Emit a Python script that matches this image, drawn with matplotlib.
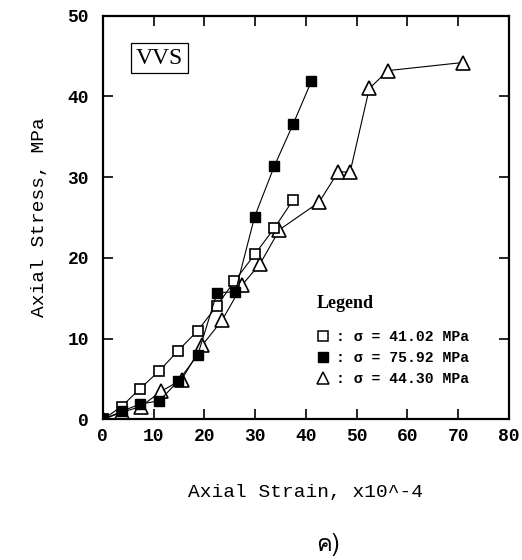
import matplotlib
matplotlib.use('Agg')
import matplotlib.pyplot as plt
from matplotlib import font_manager
from matplotlib.ft2font import FT2Font
from matplotlib.lines import Line2D

# strain (x10^-4) and stress (MPa)
strain_41 = [0, 3.7, 7.3, 11.1, 14.8, 18.7, 22.5, 25.9, 30.0, 33.8, 37.5]
stress_41 = [0, 1.6, 3.8, 6.0, 8.5, 11.0, 14.1, 17.1, 20.5, 23.7, 27.2]

strain_75 = [0, 3.7, 7.3, 11.1, 14.8, 18.7, 22.5, 26.1, 29.9, 33.8, 37.5, 41.1]
stress_75 = [0, 1.0, 1.9, 2.3, 4.7, 8.0, 15.7, 15.8, 25.1, 31.4, 36.6, 41.9]

strain_44 = [0, 3.8, 7.5, 11.5, 15.5, 19.6, 23.5, 27.5, 31.0, 34.8, 42.6, 46.4, 48.7, 52.5, 56.2, 70.9]
stress_44 = [0, 0.9, 1.6, 3.5, 4.9, 9.2, 12.3, 16.7, 19.3, 23.5, 26.9, 30.7, 30.6, 41.0, 43.2, 44.2]

legend_labels = [': σ = 41.02 MPa', ': σ = 75.92 MPa', ': σ = 44.30 MPa']
x_ticks = [0, 10, 20, 30, 40, 50, 60, 70, 80]
y_ticks = [0, 10, 20, 30, 40, 50]
panel_label = 'ค)'

mono = 'Liberation Mono'


def families_with(ch):
    # look through the installed fonts for any that carry this glyph
    found = []
    for f in font_manager.fontManager.ttflist:
        try:
            if ord(ch) in FT2Font(f.fname).get_charmap() and f.name not in found:
                found.append(f.name)
        except Exception:
            pass
    return found


panel_fonts = families_with(panel_label[0]) + ['DejaVu Sans']

fig = plt.figure(figsize=(5.22, 5.6), dpi=100)
ax = fig.add_axes([0.197, 0.251, 0.778, 0.721])

ax.plot(strain_41, stress_41, color='black', lw=0.8, marker='s', ms=7.5,
        mfc='white', mec='black', mew=1.2, zorder=3)
ax.plot(strain_75, stress_75, color='black', lw=0.8, marker='s', ms=7.8,
        mfc='black', mec='black', zorder=4)
ax.plot(strain_44, stress_44, color='black', lw=0.8, marker='^', ms=9.5,
        mfc='white', mec='black', mew=1.2, zorder=2)

ax.set_xlim(0, 80)
ax.set_ylim(0, 50)
ax.set_xticks(x_ticks)
ax.set_yticks(y_ticks)
ax.tick_params(direction='in', length=7, width=1.2, top=True, right=True,
               labelsize=13)
ax.tick_params(axis='x', pad=6)
ax.tick_params(axis='y', pad=10)
for lab in ax.get_xticklabels() + ax.get_yticklabels():
    lab.set_fontfamily(mono)
    lab.set_fontweight('bold')
for sp in ax.spines.values():
    sp.set_linewidth(1.6)

ax.set_xlabel('Axial Strain, x10^-4', fontfamily=mono, fontsize=14, labelpad=28)
ax.set_ylabel('Axial Stress, MPa', fontfamily=mono, fontsize=14, labelpad=14)

ax.text(0.082, 0.895, 'VVS', transform=ax.transAxes, fontfamily='Liberation Serif',
        fontsize=17, va='center', ha='left',
        bbox=dict(boxstyle='square,pad=0.2', fc='white', ec='black', lw=0.9))

ax.text(0.527, 0.287, 'Legend', transform=ax.transAxes,
        fontfamily='Liberation Serif', fontweight='bold', fontsize=13,
        va='center', ha='left')

handles = [
    Line2D([], [], ls='none', marker='s', ms=7, mfc='white', mec='black', mew=1.1),
    Line2D([], [], ls='none', marker='s', ms=7, mfc='black', mec='black'),
    Line2D([], [], ls='none', marker='^', ms=8, mfc='white', mec='black', mew=1.1),
]
ax.legend(handles, legend_labels, loc='upper left',
          bbox_to_anchor=(0.512, 0.235), frameon=False, handlelength=0.8,
          handletextpad=0.5, labelspacing=0.45, borderaxespad=0,
          prop={'family': mono, 'weight': 'bold', 'size': 10.6})

fig.text(0.628, 0.027, panel_label, fontsize=17, ha='center', va='center',
         fontfamily=panel_fonts)

fig.savefig('out.png', dpi=100)
